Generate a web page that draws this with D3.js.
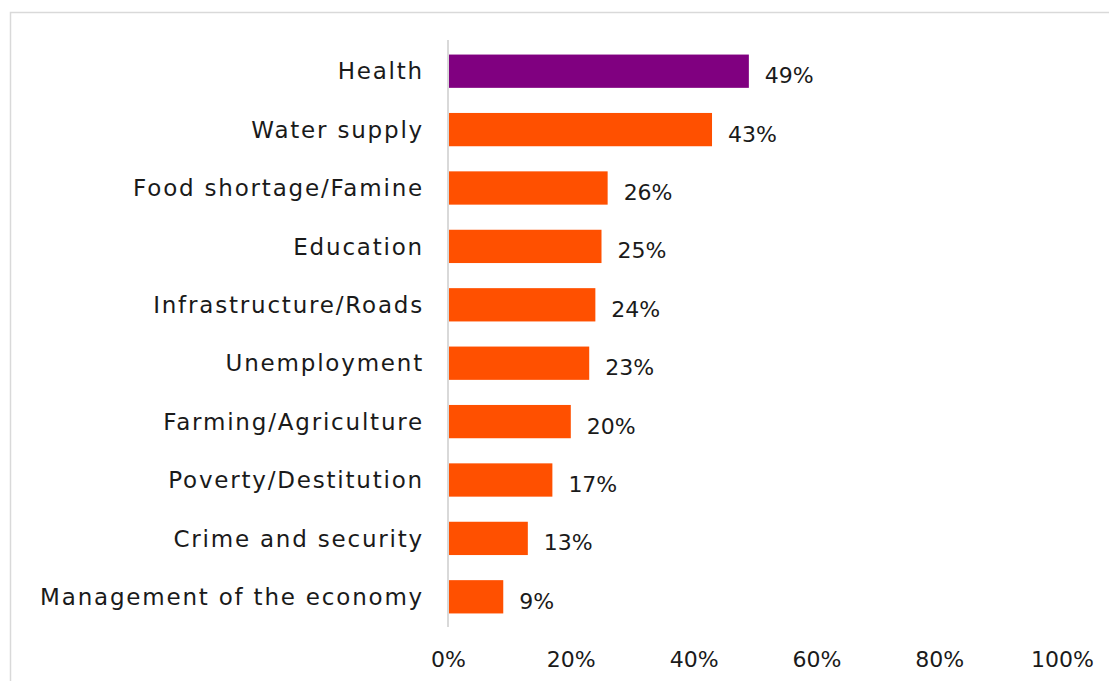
<!DOCTYPE html>
<html>
<head>
<meta charset="utf-8">
<script src="https://cdn.jsdelivr.net/npm/d3@7"></script>
<style>
  html, body { margin: 0; padding: 0; background: #fff; }
  svg { display: block; }
  text { font-family: "DejaVu Sans", sans-serif; fill: #1a1a1a; }
</style>
</head>
<body>
<svg id="chart" width="1109" height="681"></svg>
<script>
// Most important problems, share of respondents
const categories = [
  "Health", "Water supply", "Food shortage/Famine", "Education",
  "Infrastructure/Roads", "Unemployment", "Farming/Agriculture",
  "Poverty/Destitution", "Crime and security", "Management of the economy"
];
const values = [0.49, 0.43, 0.26, 0.25, 0.24, 0.23, 0.20, 0.17, 0.13, 0.09];
const tickValues = [0, 0.2, 0.4, 0.6, 0.8, 1.0];
const tickLabels = ["0%", "20%", "40%", "60%", "80%", "100%"];

const svg = d3.select("#chart");

// chart frame (extends past the page edge on right and bottom)
svg.append("rect")
  .attr("x", 10.5).attr("y", 12.5)
  .attr("width", 1200).attr("height", 800)
  .attr("fill", "none").attr("stroke", "#d9d9d9").attr("stroke-width", 1.5);

const x = d3.scaleLinear().domain([0, 1]).range([448, 1062]);
const y = d3.scaleBand().domain(categories).range([42, 626]).paddingInner(0.43).paddingOuter(0.215);

// bars
svg.append("g").selectAll("rect")
  .data(categories)
  .join("rect")
  .attr("x", x(0))
  .attr("y", d => y(d))
  .attr("width", (d, i) => x(values[i]) - x(0))
  .attr("height", y.bandwidth())
  .attr("fill", (d, i) => i === 0 ? "#800080" : "#ff5000");

// vertical axis line
svg.append("line")
  .attr("x1", x(0)).attr("x2", x(0))
  .attr("y1", 40).attr("y2", 627)
  .attr("stroke", "#d9d9d9").attr("stroke-width", 2);

// category labels
svg.append("g").selectAll("text")
  .data(categories)
  .join("text")
  .attr("x", 424)
  .attr("y", d => y(d) + y.bandwidth() / 2)
  .attr("dy", "0.36em")
  .attr("text-anchor", "end")
  .attr("font-size", 23)
  .attr("letter-spacing", 1.8)
  .text(d => d);

// value labels
svg.append("g").selectAll("text")
  .data(categories)
  .join("text")
  .attr("x", (d, i) => x(values[i]) + 16)
  .attr("y", d => y(d) + y.bandwidth() / 2 + 4)
  .attr("dy", "0.36em")
  .attr("font-size", 22)
  .text((d, i) => Math.round(values[i] * 100) + "%");

// x axis tick labels
const xAxis = d3.axisBottom(x)
  .tickValues(tickValues)
  .tickFormat((d, i) => tickLabels[i])
  .tickSize(0)
  .tickPadding(0);
const gx = svg.append("g").attr("transform", "translate(0,651)").call(xAxis);
gx.select(".domain").remove();
gx.selectAll("text")
  .attr("font-size", 22)
  .attr("font-family", "DejaVu Sans, sans-serif")
  .attr("fill", "#1a1a1a");
</script>
</body>
</html>
